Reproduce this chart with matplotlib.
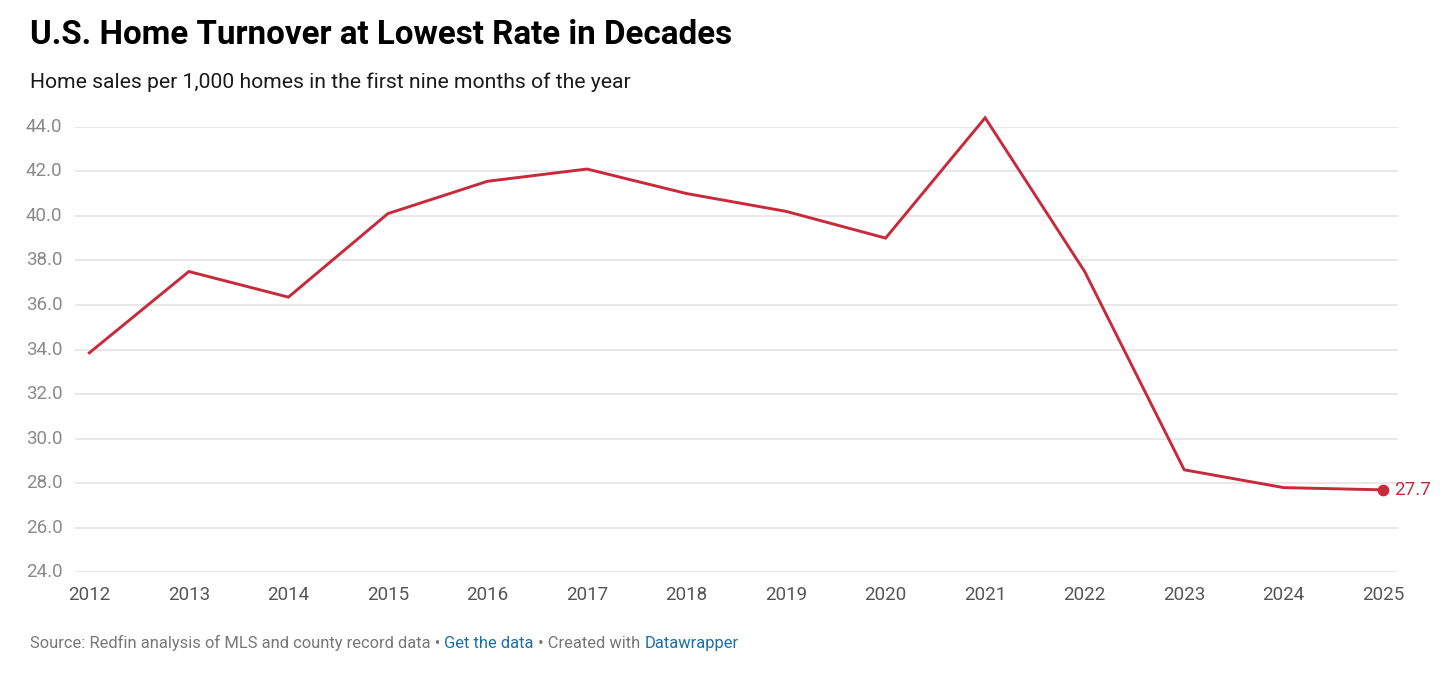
import matplotlib
matplotlib.use("Agg")
import matplotlib.pyplot as plt

years = [2012, 2013, 2014, 2015, 2016, 2017, 2018, 2019, 2020, 2021, 2022, 2023, 2024, 2025]
turnover = [33.85, 37.5, 36.35, 40.1, 41.55, 42.1, 41.0, 40.2, 39.0, 44.4, 37.5, 28.6, 27.8, 27.7]
y_ticks = [24, 26, 28, 30, 32, 34, 36, 38, 40, 42, 44]

RED = "#c72a3b"
plt.rcParams["font.family"] = ["Roboto", "DejaVu Sans"]

fig = plt.figure(figsize=(14.56, 6.74), dpi=100)
ax = fig.add_axes([75 / 1456, 1 - 572.3 / 674, (1398 - 75) / 1456, (572.3 - 126.7) / 674])

ax.plot(years, turnover, color=RED, lw=2.1, clip_on=False, solid_joinstyle="miter", zorder=3)
ax.scatter(years[-1:], turnover[-1:], s=55, color=RED, clip_on=False, zorder=4)
ax.annotate(f"{turnover[-1]:.1f}", (years[-1], turnover[-1]), xytext=(8, 0),
            textcoords="offset points", va="center", ha="left", color=RED, fontsize=13.5)

ax.set_xlim(2012 - 0.144, 2025 + 0.148)
ax.set_ylim(24, 44)
ax.set_yticks(y_ticks)
ax.set_yticklabels([f"{v:.1f}" for v in y_ticks])
ax.set_xticks(years)
ax.set_xticklabels([str(y) for y in years])
ax.grid(axis="y", color="#e2e2e2", lw=1.1)
ax.set_axisbelow(True)
for s in ax.spines.values():
    s.set_visible(False)
ax.tick_params(axis="y", length=0, pad=9, labelsize=13.5, labelcolor="#8a8a8a")
ax.tick_params(axis="x", length=0, pad=10, labelsize=13.5, labelcolor="#555555")
for lbl in ax.get_yticklabels():
    lbl.set_verticalalignment("center")

fig.text(30 / 1456, 1 - 35 / 674, "U.S. Home Turnover at Lowest Rate in Decades",
         fontsize=23.9, fontweight="bold", va="center", ha="left", color="#000000")
fig.text(30 / 1456, 1 - 82 / 674, "Home sales per 1,000 homes in the first nine months of the year",
         fontsize=15.2, va="center", ha="left", color="#1a1a1a")

# footer with link-coloured pieces
parts = [("Source: Redfin analysis of MLS and county record data \u2022 ", "#777777"),
         ("Get the data", "#1a6fa8"),
         (" \u2022 Created with ", "#777777"),
         ("Datawrapper", "#1a6fa8")]
fig.canvas.draw()
renderer = fig.canvas.get_renderer()
x = 30
for txt, col in parts:
    t = fig.text(x / 1456, 1 - 648 / 674, txt, fontsize=11.9, color=col, va="baseline", ha="left")
    x += t.get_window_extent(renderer).width

fig.savefig("out.png", dpi=100, facecolor="white")
